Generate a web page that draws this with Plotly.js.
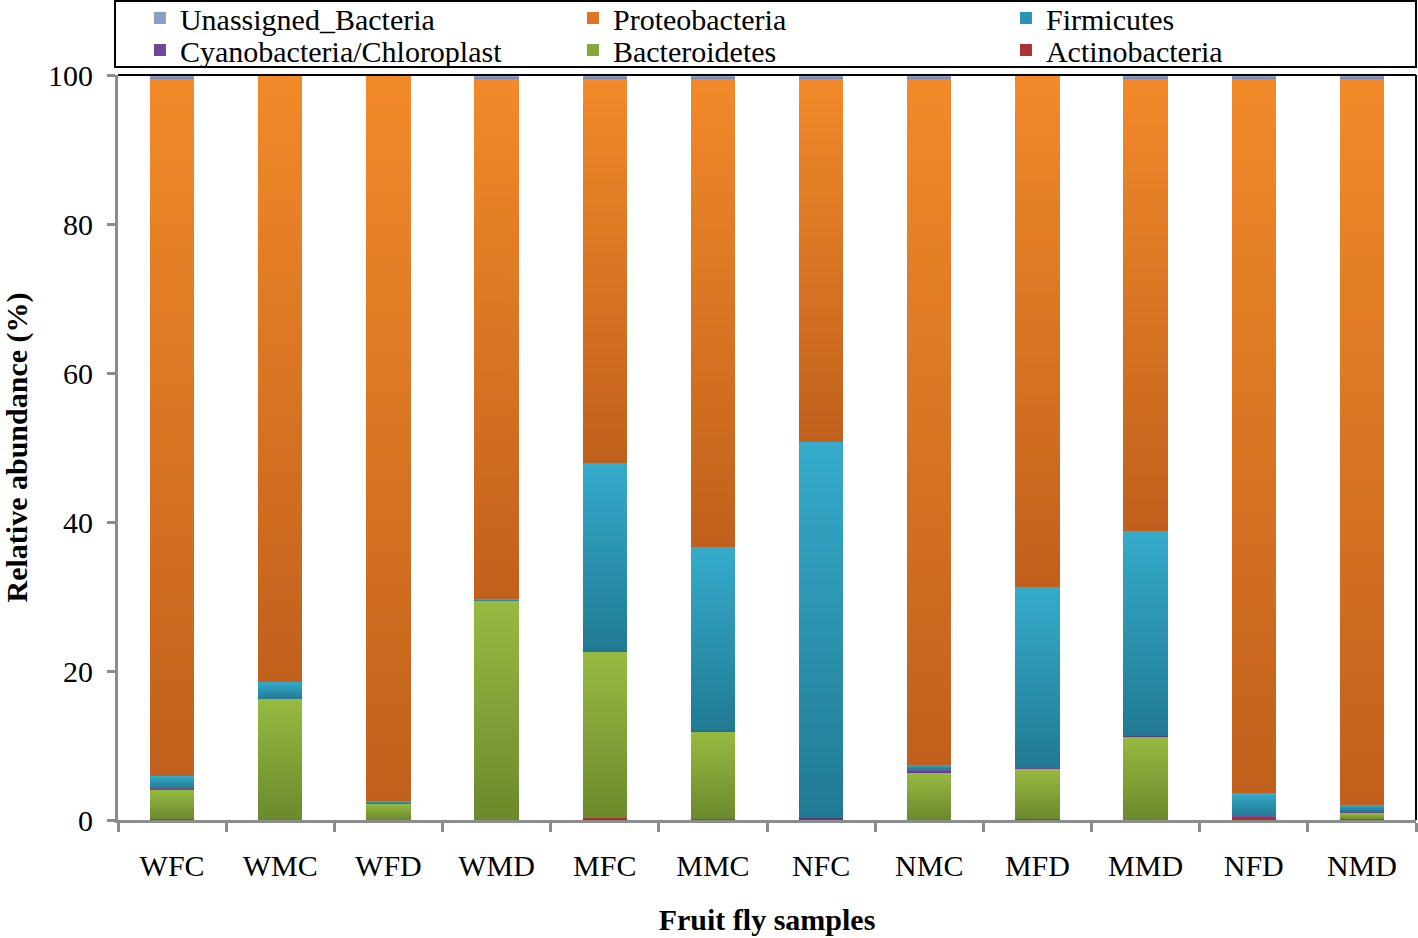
<!DOCTYPE html>
<html>
<head>
<meta charset="utf-8">
<script src="https://cdn.plot.ly/plotly-3.0.1.min.js"></script>
<style>
  html, body { margin: 0; padding: 0; background: #fff; }
  #chart { width: 1418px; height: 938px; }
</style>
</head>
<body>
<div id="chart"></div>
<script>
// Fruit fly gut samples, phylum-level relative abundance (%)
const samples = ["WFC", "WMC", "WFD", "WMD", "MFC", "MMC", "NFC", "NMC", "MFD", "MMD", "NFD", "NMD"];

const actinobacteria = [0.1, 0.0, 0.0, 0.0, 0.3, 0.1, 0.2, 0.0, 0.1, 0.0, 0.3, 0.1];
const bacteroidetes  = [3.9, 16.2, 2.2, 29.4, 22.2, 11.7, 0.0, 6.3, 6.7, 11.2, 0.0, 0.8];
const cyanobacteria  = [0.3, 0.0, 0.0, 0.0, 0.2, 0.2, 0.1, 0.5, 0.2, 0.2, 0.2, 0.3];
const firmicutes     = [1.6, 2.3, 0.3, 0.2, 25.2, 24.6, 50.4, 0.6, 24.3, 27.4, 3.1, 0.8];
const proteobacteria = [93.6, 81.5, 97.5, 69.9, 51.6, 62.9, 48.8, 92.1, 68.7, 60.7, 95.9, 97.5];
const unassigned     = [0.5, 0.0, 0.0, 0.5, 0.5, 0.5, 0.5, 0.5, 0.0, 0.5, 0.5, 0.5];

// bottom to top; g = [top, bottom] shading colours, legend = which legend row
const series = [
  { name: "Actinobacteria", y: actinobacteria, c: "#ad3232", g: ["#c24040", "#8e2626"], legend: "legend2" },
  { name: "Bacteroidetes", y: bacteroidetes, c: "#86a83a", g: ["#97ba42", "#6a8a2c"], legend: "legend2" },
  { name: "Cyanobacteria/Chloroplast", y: cyanobacteria, c: "#6a4a92", g: ["#7c57a6", "#553a7c"], legend: "legend2" },
  { name: "Firmicutes", y: firmicutes, c: "#2a94b4", g: ["#35abcb", "#217a93"], legend: "legend" },
  { name: "Proteobacteria", y: proteobacteria, c: "#e07424", g: ["#f28a2a", "#c0601c"], legend: "legend" },
  { name: "Unassigned_Bacteria", y: unassigned, c: "#8a9ec8", g: ["#9fb2d6", "#7088b8"], legend: "legend" },
];

const serif = "'Liberation Serif', 'Times New Roman', serif";

const traces = series.map((s) => ({
  type: "bar",
  name: s.name,
  x: samples,
  y: s.y,
  legend: s.legend,
  marker: { color: s.c, line: { width: 0 } },
  hoverinfo: "x+y+name",
}));

// one legend per row so the rows sit as tight as in the original
function legendRow(y) {
  return {
    orientation: "h",
    traceorder: "reversed",
    xref: "container",
    yref: "container",
    x: 0.0987,
    xanchor: "left",
    y: y,
    yanchor: "middle",
    entrywidth: 388,
    borderwidth: 0,
    bgcolor: "rgba(0,0,0,0)",
    font: { family: serif, size: 30, color: "#000" },
  };
}

const layout = {
  width: 1418,
  height: 938,
  barmode: "stack",
  bargap: 0.59,
  paper_bgcolor: "#fff",
  plot_bgcolor: "#fff",
  font: { family: serif, color: "#000", size: 30 },
  margin: { l: 118, r: 2, t: 75, b: 118, autoexpand: false },
  showlegend: true,
  legend: legendRow(0.9808),
  legend2: legendRow(0.9467),
  xaxis: {
    type: "category",
    showline: true,
    linecolor: "#8c8c8c",
    linewidth: 3,
    ticks: "outside",
    tickson: "boundaries",
    ticklen: 9,
    tickwidth: 3,
    tickcolor: "#8c8c8c",
    ticklabelstandoff: 17,
    tickfont: { family: serif, size: 30 },
    title: { text: "<b>Fruit fly samples</b>", font: { family: serif, size: 30 }, standoff: 28 },
  },
  yaxis: {
    range: [0, 100],
    tickvals: [0, 20, 40, 60, 80, 100],
    showgrid: false,
    zeroline: false,
    showline: true,
    linecolor: "#8c8c8c",
    linewidth: 3,
    ticks: "outside",
    ticklen: 8,
    tickwidth: 3,
    tickcolor: "#8c8c8c",
    ticklabelstandoff: 8,
    tickfont: { family: serif, size: 30 },
    title: { text: "<b>Relative abundance (%)</b>", font: { family: serif, size: 30 }, standoff: 24 },
  },
  shapes: [
    // plot frame top and right
    { type: "line", xref: "paper", yref: "paper", x0: 0, x1: 1, y0: 1, y1: 1, line: { color: "#000", width: 2 } },
    { type: "line", xref: "paper", yref: "paper", x0: 1, x1: 1, y0: 0, y1: 1, line: { color: "#000", width: 2 } },
    // legend box
    { type: "rect", xref: "paper", yref: "paper", x0: -0.0023, x1: 1, y0: 1.0107, y1: 1.0993, line: { color: "#000", width: 2 } },
  ],
};

const gd = document.getElementById("chart");
Plotly.newPlot(gd, traces, layout, { displayModeBar: false, staticPlot: true }).then(() => {
  // Excel-style vertical shading on each bar segment
  const svg = gd.querySelector(".main-svg");
  const ns = "http://www.w3.org/2000/svg";
  let defs = svg.querySelector("defs");
  if (!defs) { defs = document.createElementNS(ns, "defs"); svg.insertBefore(defs, svg.firstChild); }
  series.forEach((s, i) => {
    const lg = document.createElementNS(ns, "linearGradient");
    lg.setAttribute("id", "barGrad" + i);
    lg.setAttribute("x1", "0"); lg.setAttribute("y1", "0");
    lg.setAttribute("x2", "0"); lg.setAttribute("y2", "1");
    [[0, s.g[0]], [1, s.g[1]]].forEach(([o, c]) => {
      const st = document.createElementNS(ns, "stop");
      st.setAttribute("offset", o);
      st.setAttribute("stop-color", c);
      lg.appendChild(st);
    });
    defs.appendChild(lg);
  });
  gd.querySelectorAll(".barlayer .trace").forEach((tr, i) => {
    tr.querySelectorAll("path").forEach((p) => { p.style.fill = "url(#barGrad" + i + ")"; });
  });
});
</script>
</body>
</html>
